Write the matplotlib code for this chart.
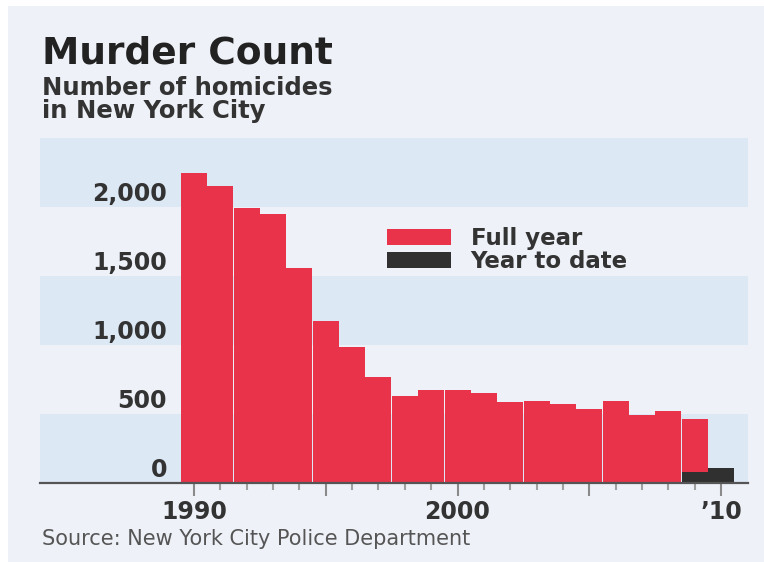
import matplotlib
matplotlib.use("Agg")
import matplotlib.pyplot as plt
import matplotlib.transforms as mtransforms
from matplotlib.patches import Rectangle

# ---- data ----
years_full = [1990, 1991, 1992, 1993, 1994, 1995, 1996, 1997, 1998, 1999,
              2000, 2001, 2002, 2003, 2004, 2005, 2006, 2007, 2008, 2009]
murders_full = [2245, 2154, 1995, 1946, 1561, 1177, 983, 770, 633, 671,
                673, 649, 587, 597, 570, 539, 596, 496, 523, 466]
years_ytd = [2009, 2010]
murders_ytd = [82, 106]
ytick_values = [0, 500, 1000, 1500, 2000]
ytick_labels = ["0", "500", "1,000", "1,500", "2,000"]
xtick_major = [1990, 1995, 2000, 2005, 2010]
xtick_labels = ["1990", "", "2000", "", "\u201910"]
xtick_minor = list(range(1990, 2011))
band_ranges = [(0, 500), (1000, 1500), (2000, 2500)]

title = "Murder Count"
subtitle1 = "Number of homicides"
subtitle2 = "in New York City"
source = "Source: New York City Police Department"

RED = "#e8334a"
DARK = "#303030"
PANEL = "#eef2f8"
BAND = "#dde8f5"
TEXT = "#333333"

W, H = 764, 562
fig = plt.figure(figsize=(W / 100, H / 100), dpi=100, facecolor="white")
fig.patches.append(Rectangle((8 / W, 0), 1 - 8 / W, 1 - 6 / H,
                             transform=fig.transFigure, facecolor=PANEL,
                             edgecolor="none", zorder=-10))

ax = fig.add_axes([40 / W, 1 - 483 / H, 708 / W, 345 / H])
ax.set_facecolor("none")
for lo, hi in band_ranges:
    ax.axhspan(lo, hi, color=BAND, lw=0, zorder=0)

ax.bar(years_full, murders_full, width=0.985, color=RED, lw=0, zorder=2,
       label="Full year")
ax.bar(years_ytd, murders_ytd, width=0.985, color=DARK, lw=0, zorder=3,
       label="Year to date")

ax.set_xlim(1984.16, 2011.02)
ax.set_ylim(0, 2500)

for s in ["left", "right", "top"]:
    ax.spines[s].set_visible(False)
ax.spines["bottom"].set_color("#555555")
ax.spines["bottom"].set_linewidth(1.6)
ax.spines["bottom"].set_zorder(5)

ax.set_yticks([])
ax.set_xticks(xtick_major)
ax.set_xticklabels(xtick_labels)
ax.set_xticks(xtick_minor, minor=True)
ax.tick_params(axis="x", which="major", length=9, width=1.5, color="#8a8a8a",
               pad=3, labelsize=17, labelcolor=TEXT)
ax.tick_params(axis="x", which="minor", length=5, width=1.5, color="#a0a0a0")
for lab in ax.get_xticklabels():
    lab.set_fontweight("bold")

off = mtransforms.offset_copy(ax.transData, fig=fig, x=0, y=6, units="dots")
for v, t in zip(ytick_values, ytick_labels):
    ax.text(1988.975, v, t, transform=off, ha="right", va="baseline",
            fontsize=17, fontweight="bold", color=TEXT, zorder=4)

leg = ax.legend(loc="upper left", bbox_to_anchor=((387 - 40) / 708, (483 - 227) / 345),
                frameon=False, fontsize=16.5, handlelength=2.8, handleheight=0.7,
                handletextpad=0.85, labelspacing=0.0, borderpad=0, borderaxespad=0)
for t in leg.get_texts():
    t.set_fontweight("bold")
    t.set_color(TEXT)

fig.text(42 / W, 1 - 64 / H, title, fontsize=27, fontweight="bold",
         color="#222222", va="baseline", ha="left")
fig.text(42 / W, 1 - 95 / H, subtitle1, fontsize=17.5, fontweight="bold",
         color=TEXT, va="baseline", ha="left")
fig.text(42 / W, 1 - 118 / H, subtitle2, fontsize=17.5, fontweight="bold",
         color=TEXT, va="baseline", ha="left")
fig.text(42 / W, 1 - 545 / H, source, fontsize=15, color="#555555",
         va="baseline", ha="left")

fig.savefig("out.png", dpi=100, facecolor="white")
